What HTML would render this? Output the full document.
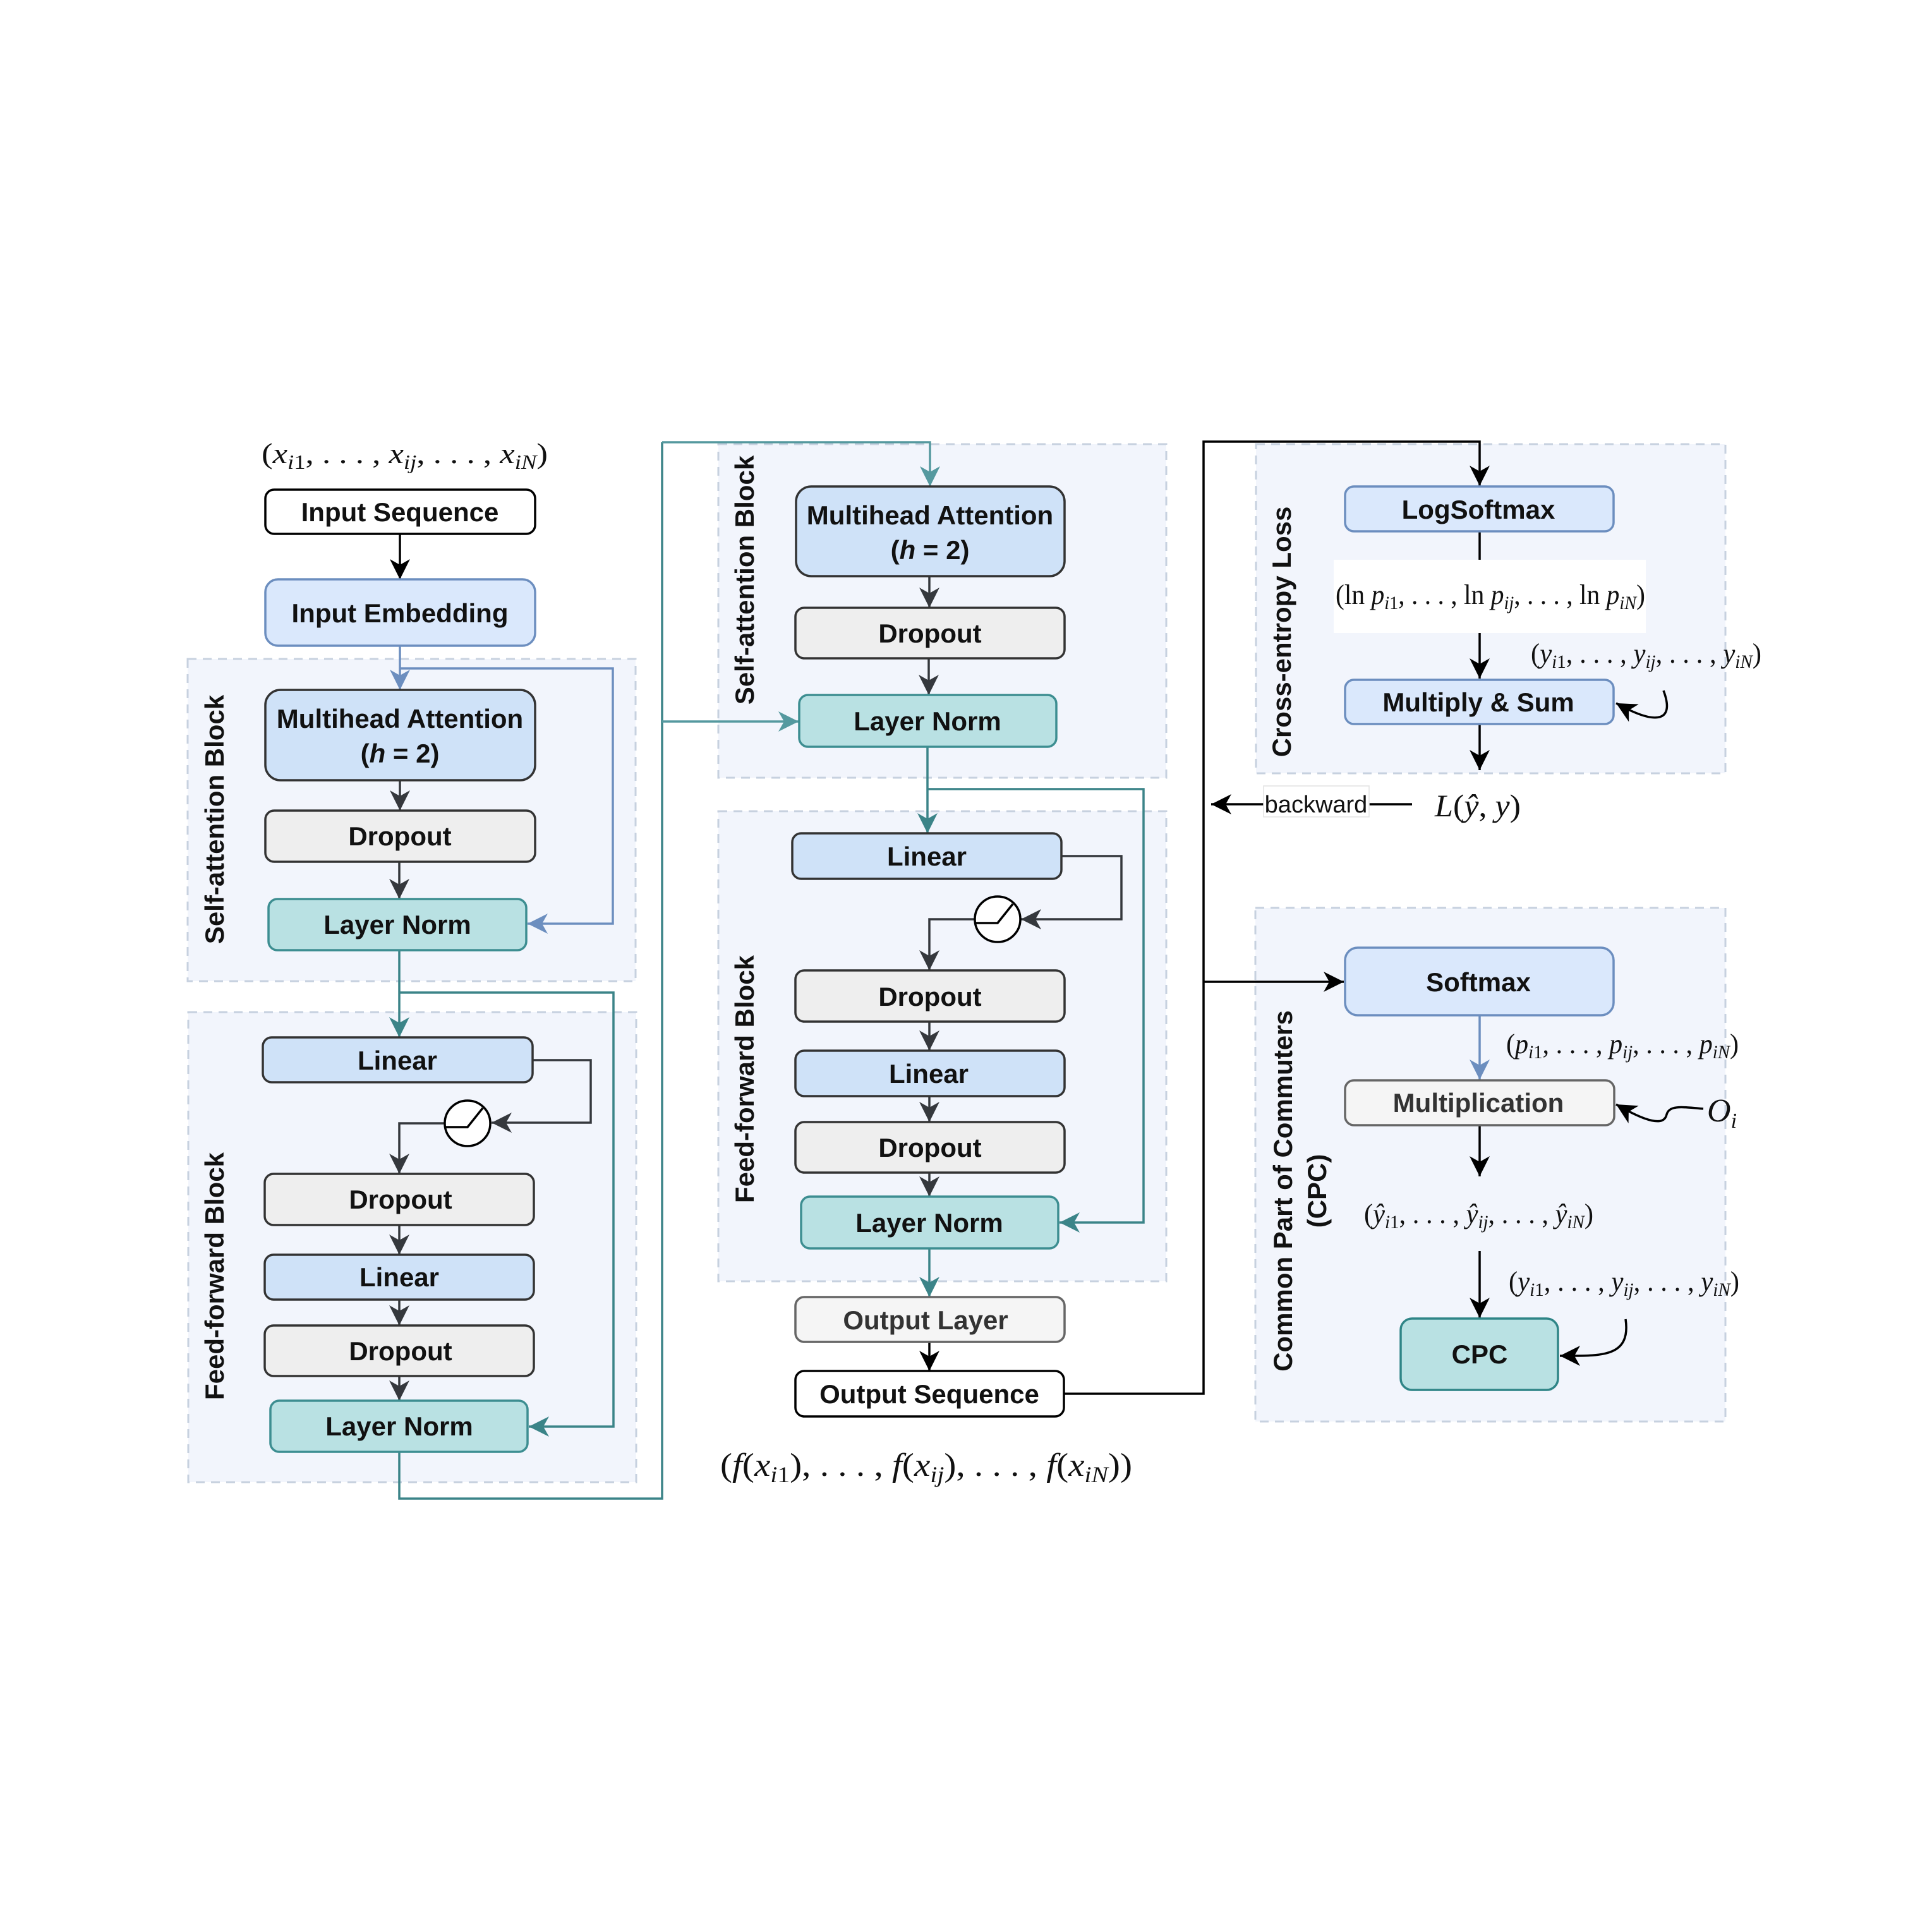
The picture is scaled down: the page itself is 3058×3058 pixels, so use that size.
<!DOCTYPE html>
<html>
<head>
<meta charset="utf-8">
<style>
html,body{margin:0;padding:0;background:#ffffff;}
svg{display:block;}
.b{font-family:"Liberation Sans",Arial,sans-serif;font-weight:bold;font-size:42px;fill:#111;}
.m{font-family:"Liberation Serif","Times New Roman",serif;fill:#111;}
.i{font-style:italic;}
</style>
</head>
<body>
<svg width="3058" height="3058" viewBox="0 0 3058 3058" xmlns="http://www.w3.org/2000/svg">
<defs>
  <marker id="aK" viewBox="-34 -18 36 36" refX="0" refY="0" markerWidth="36" markerHeight="36" markerUnits="userSpaceOnUse" orient="auto"><path d="M0,0 L-32,-16 L-23,0 L-32,16 Z" fill="#000"/></marker>
  <marker id="aD" viewBox="-34 -18 36 36" refX="0" refY="0" markerWidth="36" markerHeight="36" markerUnits="userSpaceOnUse" orient="auto"><path d="M0,0 L-32,-16 L-23,0 L-32,16 Z" fill="#35383d"/></marker>
  <marker id="aB" viewBox="-34 -18 36 36" refX="0" refY="0" markerWidth="36" markerHeight="36" markerUnits="userSpaceOnUse" orient="auto"><path d="M0,0 L-32,-16 L-23,0 L-32,16 Z" fill="#6c8ebf"/></marker>
  <marker id="aT" viewBox="-34 -18 36 36" refX="0" refY="0" markerWidth="36" markerHeight="36" markerUnits="userSpaceOnUse" orient="auto"><path d="M0,0 L-32,-16 L-23,0 L-32,16 Z" fill="#3b8488"/></marker>
  <marker id="aL" viewBox="-34 -18 36 36" refX="0" refY="0" markerWidth="36" markerHeight="36" markerUnits="userSpaceOnUse" orient="auto"><path d="M0,0 L-32,-16 L-23,0 L-32,16 Z" fill="#55999f"/></marker>
</defs>

<!-- dashed containers -->
<g fill="#f2f5fc" stroke="#c7d1df" stroke-width="3" stroke-dasharray="14 10">
  <rect x="297" y="1043" width="709" height="510"/>
  <rect x="298" y="1602" width="709" height="744"/>
  <rect x="1137" y="703" width="709" height="528"/>
  <rect x="1137" y="1284" width="709" height="744"/>
  <rect x="1988" y="703" width="743" height="521"/>
  <rect x="1987" y="1437" width="744" height="813"/>
</g>

<!-- rotated block labels -->
<text class="b" transform="translate(339,1297) rotate(-90)" text-anchor="middle" y="15">Self-attention Block</text>
<text class="b" transform="translate(339,2020) rotate(-90)" text-anchor="middle" y="15">Feed-forward Block</text>
<text class="b" transform="translate(1178,918) rotate(-90)" text-anchor="middle" y="15">Self-attention Block</text>
<text class="b" transform="translate(1178,1708) rotate(-90)" text-anchor="middle" y="15">Feed-forward Block</text>
<text class="b" transform="translate(2028,1000) rotate(-90)" text-anchor="middle" y="15">Cross-entropy Loss</text>
<text class="b" transform="translate(2030,1885) rotate(-90)" text-anchor="middle" y="15">Common Part of Commuters</text>
<text class="b" transform="translate(2084,1885) rotate(-90)" text-anchor="middle" y="15">(CPC)</text>

<!-- connectors -->
<g fill="none" stroke-width="3.5">
  <!-- left column -->
  <path d="M633,845 V917" stroke="#000" marker-end="url(#aK)"/>
  <path d="M633,1022 V1092" stroke="#6c8ebf" marker-end="url(#aB)"/>
  <path d="M633,1058 H970 V1462 H835" stroke="#6c8ebf" marker-end="url(#aB)"/>
  <path d="M633,1235 V1283" stroke="#35383d" marker-end="url(#aD)"/>
  <path d="M632,1364 V1423" stroke="#35383d" marker-end="url(#aD)"/>
  <path d="M632,1504 V1642" stroke="#3b8488" marker-end="url(#aT)"/>
  <path d="M632,1571 H971 V2258 H837" stroke="#3b8488" marker-end="url(#aT)"/>
  <path d="M843,1678 H935 V1777 H778" stroke="#35383d" marker-end="url(#aD)"/>
  <path d="M704,1778 H632 V1858" stroke="#35383d" marker-end="url(#aD)"/>
  <path d="M632,1939 V1986" stroke="#35383d" marker-end="url(#aD)"/>
  <path d="M632,2057 V2098" stroke="#35383d" marker-end="url(#aD)"/>
  <path d="M632,2178 V2217" stroke="#35383d" marker-end="url(#aD)"/>
  <path d="M632,2298 V2372 H1048 V700" stroke="#3b8488"/>
  <path d="M1048,700 H1472 V770" stroke="#55999f" marker-end="url(#aL)"/>
  <path d="M1048,1142 H1264" stroke="#55999f" marker-end="url(#aL)"/>
  <!-- middle column -->
  <path d="M1471,912 V962" stroke="#35383d" marker-end="url(#aD)"/>
  <path d="M1470,1042 V1100" stroke="#35383d" marker-end="url(#aD)"/>
  <path d="M1468,1182 V1319" stroke="#3b8488" marker-end="url(#aT)"/>
  <path d="M1468,1249 H1810 V1935 H1677" stroke="#3b8488" marker-end="url(#aT)"/>
  <path d="M1680,1355 H1775 V1455 H1616" stroke="#35383d" marker-end="url(#aD)"/>
  <path d="M1543,1455 H1471 V1536" stroke="#35383d" marker-end="url(#aD)"/>
  <path d="M1471,1617 V1663" stroke="#35383d" marker-end="url(#aD)"/>
  <path d="M1471,1735 V1776" stroke="#35383d" marker-end="url(#aD)"/>
  <path d="M1471,1856 V1894" stroke="#35383d" marker-end="url(#aD)"/>
  <path d="M1471,1976 V2053" stroke="#3b8488" marker-end="url(#aT)"/>
  <path d="M1471,2124 V2170" stroke="#000" marker-end="url(#aK)"/>
  <path d="M1684,2206 H1905 V699 H2342 V769" stroke="#000" marker-end="url(#aK)"/>
  <path d="M1905,1554 H2127" stroke="#000" marker-end="url(#aK)"/>
  <!-- right column -->
  <path d="M2342,841 V1074" stroke="#000" marker-end="url(#aK)"/>
  <path d="M2342,1146 V1219" stroke="#000" marker-end="url(#aK)"/>
  <path d="M2235,1273 H1917" stroke="#000" marker-end="url(#aK)"/>
  <path d="M2342,1607 V1709" stroke="#6c8ebf" marker-end="url(#aB)"/>
  <path d="M2342,1781 V1862" stroke="#000" marker-end="url(#aK)"/>
  <path d="M2342,1980 V2086" stroke="#000" marker-end="url(#aK)"/>
  <path d="M2633,1093 C2650,1138 2628,1152 2558,1113" stroke="#000" marker-end="url(#aK)"/>
  <path d="M2696,1755 C2662,1752 2642,1749 2638,1764 C2634,1783 2606,1776 2558,1748" stroke="#000" marker-end="url(#aK)"/>
  <path d="M2573,2088 C2582,2150 2532,2146 2469,2146" stroke="#000" marker-end="url(#aK)"/>
</g>

<!-- white label backgrounds -->
<rect x="2111" y="886" width="494" height="116" fill="#ffffff"/>
<rect x="2000" y="1244" width="167" height="49" fill="#ffffff" stroke="#e2e2e2" stroke-width="1.5"/>
<text x="2083" y="1286" text-anchor="middle" font-family="Liberation Sans, Arial, sans-serif" font-size="38" fill="#111">backward</text>

<!-- ReLU circles -->
<g stroke="#000" stroke-width="3.5">
  <circle cx="740" cy="1778" r="36" fill="#ffffff"/>
  <path d="M704,1784 H740 L764,1754" fill="none"/>
  <circle cx="1579" cy="1455" r="36" fill="#ffffff"/>
  <path d="M1543,1461 H1579 L1603,1431" fill="none"/>
</g>

<!-- boxes: left -->
<rect x="420" y="775" width="427" height="70" rx="14" fill="#ffffff" stroke="#000" stroke-width="3.5"/>
<text class="b" x="633" y="825" text-anchor="middle">Input Sequence</text>
<rect x="420" y="917" width="427" height="105" rx="20" fill="#dae8fc" stroke="#6c8ebf" stroke-width="3.5"/>
<text class="b" x="633" y="985" text-anchor="middle">Input Embedding</text>
<rect x="420" y="1092" width="427" height="143" rx="24" fill="#cfe2f8" stroke="#333" stroke-width="3.5"/>
<text class="b" x="633" y="1152" text-anchor="middle">Multihead Attention</text>
<text class="b" x="633" y="1207" text-anchor="middle">(<tspan font-style="italic">h</tspan> = 2)</text>
<rect x="420" y="1283" width="427" height="81" rx="14" fill="#eeeeee" stroke="#333" stroke-width="3.5"/>
<text class="b" x="633" y="1338" text-anchor="middle">Dropout</text>
<rect x="425" y="1423" width="408" height="81" rx="14" fill="#b9e1e3" stroke="#3d8e91" stroke-width="3.5"/>
<text class="b" x="629" y="1478" text-anchor="middle">Layer Norm</text>

<rect x="416" y="1642" width="427" height="71" rx="14" fill="#cfe2f8" stroke="#333" stroke-width="3.5"/>
<text class="b" x="629" y="1693" text-anchor="middle">Linear</text>
<rect x="419" y="1858" width="426" height="81" rx="14" fill="#eeeeee" stroke="#333" stroke-width="3.5"/>
<text class="b" x="634" y="1913" text-anchor="middle">Dropout</text>
<rect x="419" y="1986" width="426" height="71" rx="14" fill="#cfe2f8" stroke="#333" stroke-width="3.5"/>
<text class="b" x="632" y="2036" text-anchor="middle">Linear</text>
<rect x="419" y="2098" width="426" height="80" rx="14" fill="#eeeeee" stroke="#333" stroke-width="3.5"/>
<text class="b" x="634" y="2153" text-anchor="middle">Dropout</text>
<rect x="428" y="2217" width="407" height="81" rx="14" fill="#b9e1e3" stroke="#3d8e91" stroke-width="3.5"/>
<text class="b" x="632" y="2272" text-anchor="middle">Layer Norm</text>

<!-- boxes: middle -->
<rect x="1260" y="770" width="425" height="142" rx="24" fill="#cfe2f8" stroke="#333" stroke-width="3.5"/>
<text class="b" x="1472" y="830" text-anchor="middle">Multihead Attention</text>
<text class="b" x="1472" y="885" text-anchor="middle">(<tspan font-style="italic">h</tspan> = 2)</text>
<rect x="1259" y="962" width="426" height="80" rx="14" fill="#eeeeee" stroke="#333" stroke-width="3.5"/>
<text class="b" x="1472" y="1017" text-anchor="middle">Dropout</text>
<rect x="1265" y="1100" width="407" height="82" rx="14" fill="#b9e1e3" stroke="#3d8e91" stroke-width="3.5"/>
<text class="b" x="1468" y="1156" text-anchor="middle">Layer Norm</text>

<rect x="1254" y="1319" width="426" height="72" rx="14" fill="#cfe2f8" stroke="#333" stroke-width="3.5"/>
<text class="b" x="1467" y="1370" text-anchor="middle">Linear</text>
<rect x="1259" y="1536" width="426" height="81" rx="14" fill="#eeeeee" stroke="#333" stroke-width="3.5"/>
<text class="b" x="1472" y="1592" text-anchor="middle">Dropout</text>
<rect x="1259" y="1663" width="426" height="72" rx="14" fill="#cfe2f8" stroke="#333" stroke-width="3.5"/>
<text class="b" x="1470" y="1714" text-anchor="middle">Linear</text>
<rect x="1259" y="1776" width="426" height="80" rx="14" fill="#eeeeee" stroke="#333" stroke-width="3.5"/>
<text class="b" x="1472" y="1831" text-anchor="middle">Dropout</text>
<rect x="1268" y="1894" width="407" height="82" rx="14" fill="#b9e1e3" stroke="#3d8e91" stroke-width="3.5"/>
<text class="b" x="1471" y="1950" text-anchor="middle">Layer Norm</text>

<rect x="1259" y="2053" width="426" height="71" rx="14" fill="#f5f5f5" stroke="#666" stroke-width="3.5"/>
<text class="b" x="1465" y="2104" text-anchor="middle" style="fill:#333">Output Layer</text>
<rect x="1259" y="2170" width="425" height="72" rx="14" fill="#ffffff" stroke="#000" stroke-width="3.5"/>
<text class="b" x="1471" y="2221" text-anchor="middle">Output Sequence</text>

<!-- boxes: right -->
<rect x="2129" y="770" width="425" height="71" rx="14" fill="#dae8fc" stroke="#6c8ebf" stroke-width="3.5"/>
<text class="b" x="2340" y="821" text-anchor="middle">LogSoftmax</text>
<rect x="2129" y="1076" width="425" height="70" rx="14" fill="#dae8fc" stroke="#6c8ebf" stroke-width="3.5"/>
<text class="b" x="2340" y="1126" text-anchor="middle">Multiply &amp; Sum</text>
<rect x="2129" y="1500" width="425" height="107" rx="20" fill="#dae8fc" stroke="#6c8ebf" stroke-width="3.5"/>
<text class="b" x="2340" y="1569" text-anchor="middle">Softmax</text>
<rect x="2129" y="1710" width="426" height="71" rx="14" fill="#f5f5f5" stroke="#666" stroke-width="3.5"/>
<text class="b" x="2340" y="1760" text-anchor="middle" style="fill:#333">Multiplication</text>
<rect x="2217" y="2087" width="249" height="113" rx="18" fill="#b9e1e3" stroke="#2f8587" stroke-width="3.5"/>
<text class="b" x="2342" y="2158" text-anchor="middle">CPC</text>

<!-- math labels -->
<text class="m" x="414" y="733" font-size="46" textLength="453" lengthAdjust="spacingAndGlyphs">(<tspan class="i">x</tspan><tspan font-size="32" dy="9" class="i">i</tspan><tspan font-size="32">1</tspan><tspan dy="-9">, . . . , </tspan><tspan class="i">x</tspan><tspan font-size="32" dy="9" class="i">ij</tspan><tspan dy="-9">, . . . , </tspan><tspan class="i">x</tspan><tspan font-size="32" dy="9" class="i">iN</tspan><tspan dy="-9">)</tspan></text>

<text class="m" x="1140" y="2336" font-size="52" textLength="652" lengthAdjust="spacingAndGlyphs">(<tspan class="i">f</tspan>(<tspan class="i">x</tspan><tspan font-size="36" dy="10" class="i">i</tspan><tspan font-size="36">1</tspan><tspan dy="-10">), . . . , </tspan><tspan class="i">f</tspan>(<tspan class="i">x</tspan><tspan font-size="36" dy="10" class="i">ij</tspan><tspan dy="-10">), . . . , </tspan><tspan class="i">f</tspan>(<tspan class="i">x</tspan><tspan font-size="36" dy="10" class="i">iN</tspan><tspan dy="-10">))</tspan></text>

<text class="m" x="2114" y="956" font-size="44" textLength="490" lengthAdjust="spacingAndGlyphs">(ln <tspan class="i">p</tspan><tspan font-size="30" dy="8" class="i">i</tspan><tspan font-size="30">1</tspan><tspan dy="-8">, . . . , ln </tspan><tspan class="i">p</tspan><tspan font-size="30" dy="8" class="i">ij</tspan><tspan dy="-8">, . . . , ln </tspan><tspan class="i">p</tspan><tspan font-size="30" dy="8" class="i">iN</tspan><tspan dy="-8">)</tspan></text>

<text class="m" x="2423" y="1049" font-size="44" textLength="365" lengthAdjust="spacingAndGlyphs">(<tspan class="i">y</tspan><tspan font-size="30" dy="8" class="i">i</tspan><tspan font-size="30">1</tspan><tspan dy="-8">, . . . , </tspan><tspan class="i">y</tspan><tspan font-size="30" dy="8" class="i">ij</tspan><tspan dy="-8">, . . . , </tspan><tspan class="i">y</tspan><tspan font-size="30" dy="8" class="i">iN</tspan><tspan dy="-8">)</tspan></text>

<text class="m" x="2271" y="1292" font-size="50" textLength="136" lengthAdjust="spacingAndGlyphs"><tspan class="i">L</tspan>(<tspan class="i">ŷ</tspan>, <tspan class="i">y</tspan>)</text>

<text class="m" x="2384" y="1667" font-size="44" textLength="368" lengthAdjust="spacingAndGlyphs">(<tspan class="i">p</tspan><tspan font-size="30" dy="8" class="i">i</tspan><tspan font-size="30">1</tspan><tspan dy="-8">, . . . , </tspan><tspan class="i">p</tspan><tspan font-size="30" dy="8" class="i">ij</tspan><tspan dy="-8">, . . . , </tspan><tspan class="i">p</tspan><tspan font-size="30" dy="8" class="i">iN</tspan><tspan dy="-8">)</tspan></text>

<text class="m" x="2702" y="1775" font-size="52"><tspan class="i">O</tspan><tspan font-size="34" dy="10" class="i">i</tspan></text>

<text class="m" x="2159" y="1936" font-size="44" textLength="363" lengthAdjust="spacingAndGlyphs">(<tspan class="i">ŷ</tspan><tspan font-size="30" dy="8" class="i">i</tspan><tspan font-size="30">1</tspan><tspan dy="-8">, . . . , </tspan><tspan class="i">ŷ</tspan><tspan font-size="30" dy="8" class="i">ij</tspan><tspan dy="-8">, . . . , </tspan><tspan class="i">ŷ</tspan><tspan font-size="30" dy="8" class="i">iN</tspan><tspan dy="-8">)</tspan></text>

<text class="m" x="2388" y="2043" font-size="44" textLength="365" lengthAdjust="spacingAndGlyphs">(<tspan class="i">y</tspan><tspan font-size="30" dy="8" class="i">i</tspan><tspan font-size="30">1</tspan><tspan dy="-8">, . . . , </tspan><tspan class="i">y</tspan><tspan font-size="30" dy="8" class="i">ij</tspan><tspan dy="-8">, . . . , </tspan><tspan class="i">y</tspan><tspan font-size="30" dy="8" class="i">iN</tspan><tspan dy="-8">)</tspan></text>
</svg>
</body>
</html>
